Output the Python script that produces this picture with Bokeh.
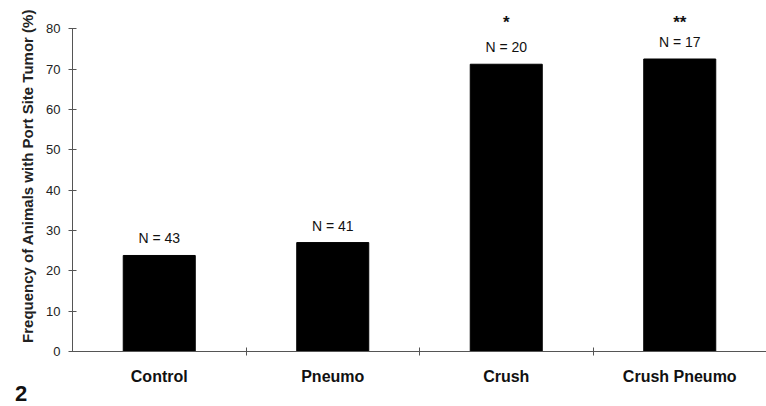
from bokeh.plotting import figure
from bokeh.models import Range1d, FixedTicker, Div
from bokeh.layouts import column
from bokeh.embed import file_html
from bokeh.resources import INLINE
from bokeh.core.properties import value

categories = ["Control", "Pneumo", "Crush", "Crush Pneumo"]
frequency = [23.8, 27.0, 71.2, 72.5]
n_labels = ["N = 43", "N = 41", "N = 20", "N = 17"]
significance = ["", "", "*", "**"]
y_ticks = [0, 10, 20, 30, 40, 50, 60, 70, 80]
figure_number = "2"

FONT = "Liberation Sans"
AXIS_COLOR = "#555555"
STAR_LEVEL = 84.0

x = [i + 0.5 for i in range(len(categories))]
boundaries = [i for i in range(1, len(categories))]

p = figure(width=766, height=406, output_backend="svg", toolbar_location=None,
           x_range=Range1d(0, 4), y_range=Range1d(0, 87),
           min_border_left=72, min_border_right=0, min_border_top=0,
           min_border_bottom=55)
p.outline_line_color = None
p.xgrid.grid_line_color = None
p.ygrid.grid_line_color = None
p.background_fill_color = "white"
p.border_fill_color = "white"

p.vbar(x=x, top=frequency, width=0.415, color="black")

p.text(x=x, y=frequency, text=n_labels, text_align="center", text_baseline="bottom",
       y_offset=-9, text_font=value(FONT), text_font_size="14px", text_color="#111111")
p.text(x=x, y=[STAR_LEVEL] * len(x), text=significance, text_align="center",
       text_baseline="top", text_font=value(FONT), text_font_size="17px",
       text_font_style="bold", text_color="#111111")

# y axis
ya = p.yaxis[0]
ya.ticker = FixedTicker(ticks=y_ticks)
ya.bounds = (0, 80)
ya.axis_line_color = AXIS_COLOR
ya.major_tick_line_color = AXIS_COLOR
ya.major_tick_in = 4
ya.major_tick_out = 4
ya.minor_tick_line_color = None
ya.major_label_standoff = 8
ya.major_label_text_font = FONT
ya.major_label_text_font_size = "13px"
ya.major_label_text_color = "#222222"
ya.axis_label = "Frequency of Animals with Port Site Tumor (%)"
ya.axis_label_text_font = FONT
ya.axis_label_text_font_size = "15px"
ya.axis_label_text_font_style = "bold"
ya.axis_label_text_color = "#222222"
ya.axis_label_standoff = 7

# x axis
xa = p.xaxis[0]
xa.ticker = FixedTicker(ticks=x, minor_ticks=boundaries)
xa.major_label_overrides = {xi: c for xi, c in zip(x, categories)}
xa.axis_line_color = AXIS_COLOR
xa.major_tick_line_color = None
xa.major_tick_in = 0
xa.major_tick_out = 0
xa.minor_tick_line_color = AXIS_COLOR
xa.minor_tick_in = 4
xa.minor_tick_out = 4
xa.major_label_standoff = 12
xa.major_label_text_font = FONT
xa.major_label_text_font_size = "16px"
xa.major_label_text_font_style = "bold"
xa.major_label_text_color = "#111111"

fig_label = Div(text=figure_number, width=30, height=20, margin=(-22, 0, 0, 15),
                styles={"font-family": FONT, "font-size": "22px", "font-weight": "bold",
                        "line-height": "20px", "color": "#111111"})

layout = column(p, fig_label, spacing=0)

open("out.html", "w").write(file_html(layout, INLINE))
